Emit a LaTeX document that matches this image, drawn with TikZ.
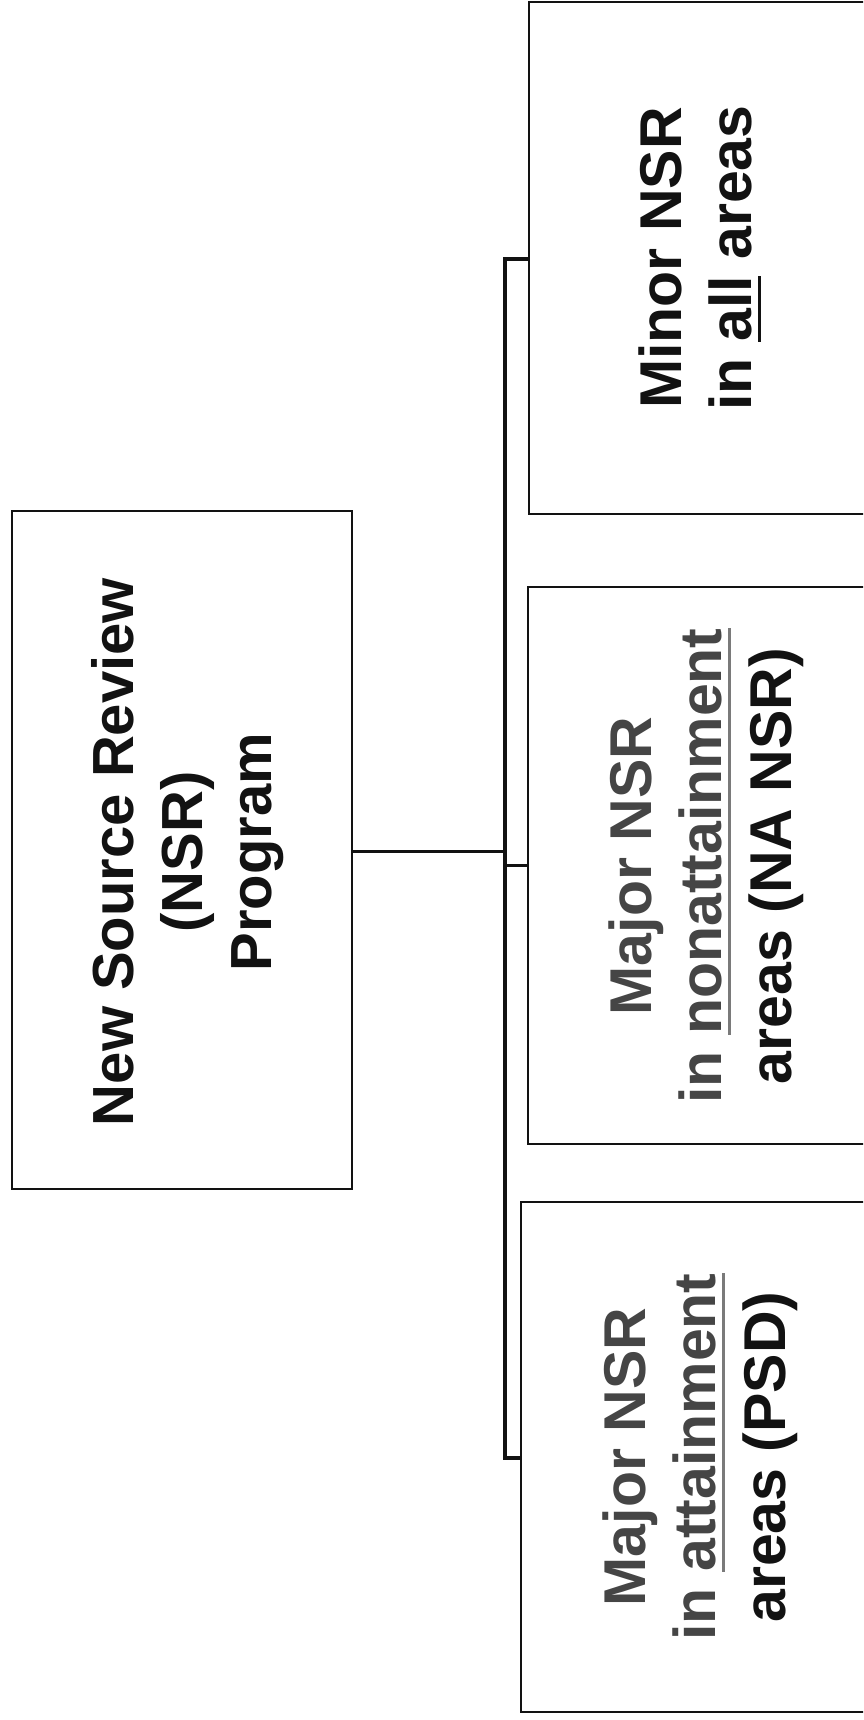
\documentclass[tikz,border=0pt]{standalone}
\usepackage{fontspec}
\setmainfont{Liberation Sans}
\definecolor{txtgray}{HTML}{454545}
\definecolor{ulgray}{HTML}{7A7A7A}
\definecolor{txtblack}{HTML}{121212}
\newcommand\myul[2]{\setbox0\hbox{#2}\rlap{\color{#1}\rule[-10pt]{\wd0}{3pt}}\box0\relax}
\begin{document}
\begin{tikzpicture}[x=1pt,y=-1pt,
  box/.style={draw=txtblack, line width=1.9pt, inner sep=0pt, fill=white},
  lbl/.style={rotate=90, align=center, inner sep=0pt, text=txtblack,
    font=\fontsize{59}{70}\selectfont\bfseries},
  mainlbl/.style={lbl, font=\fontsize{58}{69}\selectfont\bfseries},
  conn/.style={draw=txtblack, line width=3pt},
  trunkline/.style={draw=txtblack, line width=4.2pt, line join=miter}]
\useasboundingbox (0,0) rectangle (863,1720);
\clip (0,0) rectangle (863,1720);
\fill[white] (0,0) rectangle (863,1720);

% boxes
\node[box, minimum width=340pt, minimum height=678pt] (main) at (182,850) {};
\node[box, minimum width=371pt, minimum height=512pt] (minor) at (714.5,258) {};
\node[box, minimum width=372pt, minimum height=557pt] (na) at (714,865.5) {};
\node[box, minimum width=379pt, minimum height=510pt] (psd) at (710.5,1457) {};

% labels
\node[mainlbl] (mainT) at (188,852) {New Source Review\\(NSR)\\Program};
\node[lbl] (minorT) at (700,258) {Minor NSR\\in \myul{txtblack}{all} areas};
\node[lbl] (naT) at (706,866) {{\color{txtgray}Major NSR}\\{\color{txtgray}in \myul{ulgray}{nonattainment}}\\areas (NA NSR)};
\node[lbl] (psdT) at (700,1457) {{\color{txtgray}Major NSR}\\{\color{txtgray}in \myul{ulgray}{attainment}}\\areas (PSD)};

% connectors
\coordinate (jtop) at (505,259);
\coordinate (jmid) at (505,851);
\coordinate (jna) at (505,865);
\coordinate (jbot) at (505,1458);
\draw[trunkline] (jtop -| minor.west) -- (jtop) -- (jbot) -- (jbot -| psd.west);
\draw[conn] (main.east |- jmid) -- (jmid);
\draw[conn] (jna) -- (jna -| na.west);
\end{tikzpicture}
\end{document}
